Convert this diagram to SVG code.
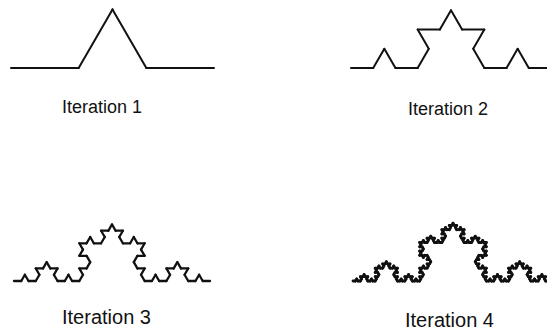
<svg xmlns="http://www.w3.org/2000/svg" xmlns:xlink="http://www.w3.org/1999/xlink" width="547" height="331" viewBox="0 0 547 331">
<style>
.seg{stroke:#111;fill:none;vector-effect:non-scaling-stroke;stroke-linecap:round}
.lbl{font-family:"Liberation Sans",Arial,sans-serif;fill:#111;stroke:none}
</style>
<defs>
<line id="k0" class="seg" x1="0" y1="0" x2="1" y2="0"/>
<g id="k1">
<use href="#k0" transform="scale(0.333333)"/>
<use href="#k0" transform="translate(0.333333,0) rotate(-60) scale(0.333333)"/>
<use href="#k0" transform="translate(0.5,-0.288675) rotate(60) scale(0.333333)"/>
<use href="#k0" transform="translate(0.666667,0) scale(0.333333)"/>
</g>
<g id="k2">
<use href="#k1" transform="scale(0.333333)"/>
<use href="#k1" transform="translate(0.333333,0) rotate(-60) scale(0.333333)"/>
<use href="#k1" transform="translate(0.5,-0.288675) rotate(60) scale(0.333333)"/>
<use href="#k1" transform="translate(0.666667,0) scale(0.333333)"/>
</g>
<g id="k3">
<use href="#k2" transform="scale(0.333333)"/>
<use href="#k2" transform="translate(0.333333,0) rotate(-60) scale(0.333333)"/>
<use href="#k2" transform="translate(0.5,-0.288675) rotate(60) scale(0.333333)"/>
<use href="#k2" transform="translate(0.666667,0) scale(0.333333)"/>
</g>
<g id="k4">
<use href="#k3" transform="scale(0.333333)"/>
<use href="#k3" transform="translate(0.333333,0) rotate(-60) scale(0.333333)"/>
<use href="#k3" transform="translate(0.5,-0.288675) rotate(60) scale(0.333333)"/>
<use href="#k3" transform="translate(0.666667,0) scale(0.333333)"/>
</g>
</defs>
<rect width="547" height="331" fill="#fff"/>
<g id="iteration1" style="stroke-width:2">
<use href="#k1" transform="translate(11,68) scale(203)"/>
<text class="lbl" x="62" y="113" font-size="18">Iteration 1</text>
</g>
<g id="iteration2" style="stroke-width:2">
<use href="#k2" transform="translate(351,68) scale(200)"/>
<text class="lbl" x="408" y="115" font-size="18">Iteration 2</text>
</g>
<g id="iteration3" style="stroke-width:2.3">
<use href="#k3" transform="translate(14,281) scale(196)"/>
<text class="lbl" x="62" y="324" font-size="20">Iteration 3</text>
</g>
<g id="iteration4" style="stroke-width:2.8">
<use href="#k4" transform="translate(353,281) scale(200)"/>
<text class="lbl" x="405" y="327" font-size="20">Iteration 4</text>
</g>
</svg>
